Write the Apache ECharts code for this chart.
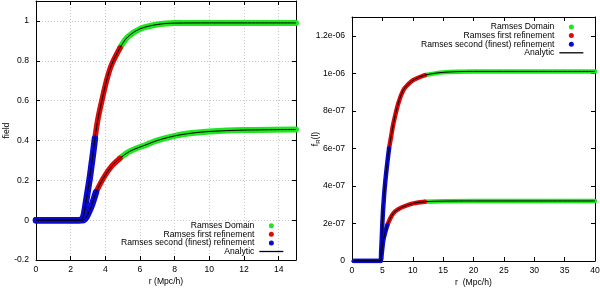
<!DOCTYPE html>
<html>
<head>
<meta charset="utf-8">
<script src="https://cdn.jsdelivr.net/npm/echarts@6/dist/echarts.min.js"></script>
<style>html,body{margin:0;padding:0;background:#fff}#c{width:600px;height:288px}</style>
</head>
<body>
<div id="c"></div>
<script>
// ---- data ----
const leftXTicks = [0, 2, 4, 6, 8, 10, 12, 14];
const leftYTicks = [-0.2, 0, 0.2, 0.4, 0.6, 0.8, 1];
const rightXTicks = [0, 5, 10, 15, 20, 25, 30, 35, 40];
const rightYTicks = [0, 2e-7, 4e-7, 6e-7, 8e-7, 1e-6, 1.2e-6];
const seriesNames = ['Ramses Domain', 'Ramses first refinement', 'Ramses second (finest) refinement', 'Analytic'];

// left panel, upper curve [r, field]
const leftUpper = [[0,0],[1,0],[2,0],[2.5,0],[2.62,0.003],[2.72,0.015],[2.8,0.045],[2.9,0.1],[3.0,0.155],[3.1,0.21],[3.2,0.275],[3.3,0.34],[3.4,0.41],[3.5,0.47],[3.6,0.52],[3.8,0.6],[4.07,0.7],[4.36,0.78],[4.85,0.865],[5.3,0.92],[6,0.96],[7,0.982],[8,0.989],[10,0.99],[12,0.99],[15,0.99]];
const leftUpperBlueEnd = 3.4, leftUpperRedEnd = 4.85;
// left panel, lower curve
const leftLower = [[0,0],[1,0],[2,0],[2.7,0],[2.8,0.004],[2.9,0.014],[3.0,0.03],[3.2,0.07],[3.46,0.14],[3.88,0.21],[4.36,0.27],[4.84,0.31],[5.4,0.345],[6.4,0.38],[7,0.4],[8,0.423],[9,0.437],[10,0.445],[12,0.452],[15,0.455]];
const leftLowerBlueEnd = 3.46, leftLowerRedEnd = 4.84;
// right panel, upper curve
const rightUpper = [[0.3,0],[2,0],[4,0],[4.7,0],[4.8,5e-8],[4.9,1.2e-7],[5.04,2.3e-7],[5.26,3.4e-7],[5.5,4.3e-7],[5.8,5.2e-7],[6.1,6e-7],[6.5,6.75e-7],[6.8,7.3e-7],[7.62,8.4e-7],[8.44,9.1e-7],[9.2,9.4e-7],[10.1,9.64e-7],[12,9.9e-7],[15,1.005e-6],[20,1.01e-6],[30,1.01e-6],[40,1.01e-6]];
const rightUpperBlueEnd = 6.1, rightUpperRedEnd = 12;
// right panel, lower curve
const rightLower = [[0.3,0],[2,0],[4,0],[4.7,0],[4.85,3e-8],[5.0,7e-8],[5.15,1.1e-7],[5.4,1.45e-7],[5.8,1.9e-7],[6.2,2.2e-7],[6.8,2.54e-7],[7.6,2.75e-7],[8.44,2.89e-7],[10.1,3.07e-7],[12,3.16e-7],[15,3.19e-7],[20,3.2e-7],[30,3.2e-7],[40,3.2e-7]];
const rightLowerBlueEnd = 5.8, rightLowerRedEnd = 12;

// ---- styling ----
const GREEN = '#1fe61f', RED = '#dd0a0a', BLUE = '#0a0ad2';
const FONT = 'Liberation Sans, Arial, Helvetica, sans-serif';
const FS = 8.6;

function seg(data, x0, x1) { return data.filter(p => p[0] >= x0 && p[0] <= x1); }
function band(name, color, data, gi, w, z) {
  return { type: 'line', name, xAxisIndex: gi * 2, yAxisIndex: gi * 2, data,
    smooth: 0.35, symbol: 'none', showSymbol: false, z,
    itemStyle: { color }, lineStyle: { color, width: w, cap: 'round', join: 'round' }, silent: true, animation: false };
}
function curveSeries(data, gi, bEnd, rEnd, wg, wr, wb) {
  return [
    band(seriesNames[0], GREEN, seg(data, rEnd, 1e9), gi, wg, 2),
    band(seriesNames[1], RED, seg(data, bEnd, rEnd), gi, wr, 3),
    band(seriesNames[2], BLUE, seg(data, -1, bEnd), gi, wb, 4),
    { type: 'line', name: seriesNames[3], xAxisIndex: gi * 2, yAxisIndex: gi * 2, data,
      smooth: 0.35, symbol: 'none', showSymbol: false, z: 6,
      itemStyle: { color: '#000' }, lineStyle: { color: '#000', width: 1 }, silent: true, animation: false }
  ];
}
function sciFmt(v) {
  if (Math.abs(v) < 1e-15) return '0';
  const e = Math.floor(Math.log10(Math.abs(v)) + 1e-9);
  const m = parseFloat((v / Math.pow(10, e)).toPrecision(6));
  return m + 'e' + (e < 0 ? '-' : '+') + String(Math.abs(e)).padStart(2, '0');
}
const axLine = { show: true, onZero: false, lineStyle: { color: '#000', width: 1 } };
const tick = { show: true, inside: true, length: 4, lineStyle: { color: '#000' } };
const lbl = { color: '#000', fontFamily: FONT, fontSize: FS };
const dotted = { show: true, showMinLine: false, showMaxLine: false, lineStyle: { color: '#c8c8c8', type: [1, 2], width: 1 } };

function xAxes(gi, min, max, interval, split, name) {
  return [
    { type: 'value', gridIndex: gi, position: 'bottom', min, max, interval,
      axisLine: axLine, axisTick: tick, splitLine: split ? dotted : { show: false },
      axisLabel: Object.assign({ margin: 5, showMaxLabel: max % interval === 0 }, lbl),
      name, nameLocation: 'middle', nameGap: 17, nameMoveOverlap: false,
      nameTextStyle: { color: '#000', fontFamily: FONT, fontSize: FS, verticalAlign: 'top' } },
    { type: 'value', gridIndex: gi, position: 'top', min, max, interval,
      axisLine: axLine, axisTick: tick, splitLine: { show: false }, axisLabel: { show: false } }
  ];
}
function yAxes(gi, min, max, interval, split, fmt, name, gap) {
  return [
    { type: 'value', gridIndex: gi, position: 'left', min, max, interval,
      axisLine: axLine, axisTick: tick, splitLine: split ? dotted : { show: false },
      axisLabel: Object.assign({ margin: 7, showMaxLabel: false, formatter: fmt }, lbl),
      name, nameLocation: 'middle', nameGap: gap, nameRotate: 90, nameMoveOverlap: false,
      nameTextStyle: { color: '#000', fontFamily: FONT, fontSize: FS,
        rich: { a: { fontFamily: FONT, fontSize: FS, color: '#000' }, b: { fontFamily: FONT, fontSize: 6, color: '#000', padding: [4, 0, 0, 0] } } } },
    { type: 'value', gridIndex: gi, position: 'right', min, max, interval,
      axisLine: axLine, axisTick: tick, splitLine: { show: false }, axisLabel: { show: false } }
  ];
}
function legend(pos) {
  return Object.assign({
    orient: 'vertical', align: 'right', itemWidth: 24, itemHeight: 5, itemGap: -0.4, padding: 0,
    textStyle: { color: '#000', fontFamily: FONT, fontSize: FS, lineHeight: 8.7 },
    selectedMode: false,
    data: [
      { name: seriesNames[0], icon: 'circle' },
      { name: seriesNames[1], icon: 'circle' },
      { name: seriesNames[2], icon: 'circle' },
      { name: seriesNames[3], itemStyle: { opacity: 0 }, lineStyle: { width: 1.3, color: '#000' } }
    ]
  }, pos);
}

const option = {
  animation: false,
  backgroundColor: '#fff',
  grid: [
    { left: 36, right: 304, top: 1, bottom: 28, outerBoundsMode: 'none', containLabel: false },
    { left: 352, right: 5, top: 17, bottom: 27, outerBoundsMode: 'none', containLabel: false }
  ],
  xAxis: [].concat(xAxes(0, 0, 15, 2, true, 'r (Mpc/h)'), xAxes(1, 0, 40, 5, false, 'r  (Mpc/h)')),
  yAxis: [].concat(yAxes(0, -0.2, 1.1, 0.2, true, null, 'field', 25),
                   yAxes(1, 0, 1.3e-6, 2e-7, false, sciFmt, '{a|f}{b|R}{a|(l)}', 31)),
  legend: [legend({ right: 316, bottom: 32 }), legend({ right: 16, top: 22.5 })],
  series: [].concat(
    curveSeries(leftLower, 0, leftLowerBlueEnd, leftLowerRedEnd, 6, 5.5, 6.5),
    curveSeries(leftUpper, 0, leftUpperBlueEnd, leftUpperRedEnd, 6, 5.5, 6.5),
    curveSeries(rightLower, 1, rightLowerBlueEnd, rightLowerRedEnd, 4.5, 4.5, 4.5),
    curveSeries(rightUpper, 1, rightUpperBlueEnd, rightUpperRedEnd, 4.5, 4.5, 4.5)
  )
};
const chart = echarts.init(document.getElementById('c'), null, { renderer: 'canvas' });
chart.setOption(option);
</script>
</body>
</html>
